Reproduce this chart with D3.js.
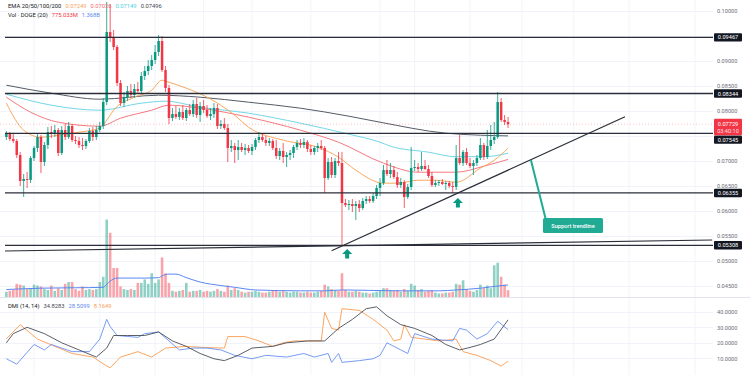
<!DOCTYPE html>
<html>
<head>
<meta charset="utf-8">
<script src="https://cdn.jsdelivr.net/npm/d3@7"></script>
<style>
body { margin: 0; background: #fff; }
svg { display: block; font-family: Roboto, "Liberation Sans", sans-serif; }
</style>
</head>
<body>
<svg width="750" height="375"></svg>
<script>
// DOGE daily candles, day 0 = first candle on the left
var open = [
 .07474,.07534,.07434,.07394,.07114,.06594,.06634,.06614,.07054,.07254,
 .07474,.06974,.07314,.07574,.07534,.07614,.07154,.07614,.07474,.07694,
 .07414,.07394,.07314,.07294,.07394,.07594,.07474,.07614,.07694,.08174,
 .09574,.09454,.09274,.08554,.08154,.08274,.08394,.08314,.08434,.08394,
 .08694,.08794,.08894,.09014,.09174,.09394,.08814,.08454,.07854,.07934,
 .07874,.07974,.07854,.08014,.07934,.08134,.07914,.08094,.08014,.07894,
 .07934,.08054,.07694,.07734,.07654,.07254,.07294,.07214,.07274,.07214,
 .07254,.07194,.07274,.07414,.07474,.07414,.07354,.07394,.07254,.07094,
 .07194,.07074,.07114,.07154,.07274,.07354,.07314,.07374,.07234,.07174,
 .07254,.07294,.07254,.06654,.06974,.06714,.06994,.06954,.06154,.06114,
 .06134,.06094,.06134,.06054,.06194,.06234,.06194,.06294,.06454,.06554,
 .06814,.06734,.06814,.06674,.06514,.06574,.06274,.06474,.06854,.06874,
 .06834,.06894,.06834,.06694,.06514,.06554,.06574,.06534,.06554,.06494,
 .06474,.07054,.06954,.07174,.06954,.06894,.06954,.07054,.07314,.07074,
 .07294,.07414,.07474,.08174,.07814,.07774];
var high = [
 .07594,.07574,.07534,.07434,.07174,.06734,.06774,.07094,.07294,.07554,
 .07514,.07374,.07674,.07694,.07714,.07654,.07694,.07734,.07774,.07734,
 .07494,.07474,.07454,.07434,.07654,.07674,.07694,.07774,.08254,.10174,
 .10134,.09614,.09314,.08614,.08374,.08494,.08534,.08534,.08574,.08774,
 .08894,.09014,.09114,.09314,.09514,.09494,.08894,.08514,.08054,.08094,
 .08054,.08114,.08054,.08134,.08214,.08254,.08174,.08214,.08114,.08054,
 .08154,.08134,.07814,.07854,.07734,.07414,.07354,.07414,.07354,.07334,
 .07314,.07334,.07454,.07574,.07534,.07494,.07454,.07434,.07414,.07254,
 .07354,.07174,.07214,.07314,.07414,.07434,.07454,.07414,.07314,.07294,
 .07354,.07414,.07294,.07054,.07074,.07054,.07174,.07174,.06234,.06214,
 .06234,.06194,.06214,.06254,.06294,.06294,.06354,.06514,.06654,.06914,
 .07014,.06954,.06894,.06774,.06654,.06614,.06534,.07274,.07014,.06954,
 .07174,.07014,.06914,.06774,.06614,.06614,.06634,.06594,.06594,.06574,
 .07314,.07514,.07214,.07254,.07054,.07014,.07114,.07454,.07354,.07614,
 .07714,.07774,.08374,.08254,.07914,.07874];
var low = [
 .07414,.07394,.07354,.07054,.06494,.06274,.06454,.06554,.06994,.07174,
 .06754,.06894,.07234,.07454,.07474,.07094,.07114,.07414,.07434,.07374,
 .07334,.07254,.07214,.07234,.07354,.07394,.07414,.07574,.07634,.08114,
 .09374,.09214,.08494,.08094,.08074,.08194,.08254,.08254,.08334,.08354,
 .08614,.08714,.08814,.08934,.09094,.08774,.08374,.07734,.07794,.07834,
 .07814,.07814,.07794,.07894,.07874,.07854,.07774,.07954,.07854,.07814,
 .07854,.07634,.07634,.07614,.06974,.07174,.06954,.07014,.07174,.07114,
 .07154,.07114,.07214,.07354,.07374,.07294,.07294,.07214,.07034,.07014,
 .06954,.06874,.07014,.07054,.07214,.07254,.07254,.07174,.07114,.07114,
 .07174,.07214,.06354,.06614,.06654,.06654,.06894,.05314,.06074,.06014,
 .05974,.05814,.05974,.06014,.06134,.06154,.06154,.06234,.06294,.06514,
 .06694,.06654,.06634,.06454,.06454,.06054,.06234,.06414,.06794,.06774,
 .06794,.06814,.06654,.06474,.06474,.06494,.06514,.06414,.06454,.06354,
 .06414,.06914,.06894,.06914,.06854,.06714,.06894,.07014,.07014,.07034,
 .07214,.07334,.07434,.07774,.07714,.07654];
var close = [
 .07534,.07434,.07394,.07114,.06594,.06634,.06614,.07054,.07254,.07474,
 .06974,.07314,.07574,.07534,.07614,.07154,.07614,.07474,.07694,.07414,
 .07394,.07314,.07294,.07394,.07594,.07474,.07614,.07694,.08174,.09574,
 .09454,.09274,.08554,.08154,.08274,.08394,.08314,.08434,.08394,.08694,
 .08794,.08894,.09014,.09174,.09394,.08814,.08454,.07854,.07934,.07874,
 .07974,.07854,.08014,.07934,.08134,.07914,.08094,.08014,.07894,.07934,
 .08054,.07694,.07734,.07654,.07254,.07294,.07214,.07274,.07214,.07254,
 .07194,.07274,.07414,.07474,.07414,.07354,.07394,.07254,.07094,.07194,
 .07074,.07114,.07154,.07274,.07354,.07314,.07374,.07234,.07174,.07254,
 .07294,.07254,.06654,.06974,.06714,.06994,.06954,.06154,.06114,.06134,
 .06094,.06134,.06054,.06194,.06234,.06194,.06294,.06454,.06554,.06814,
 .06734,.06814,.06674,.06514,.06574,.06274,.06474,.06854,.06874,.06834,
 .06894,.06834,.06694,.06514,.06554,.06574,.06534,.06554,.06494,.06474,
 .07054,.06954,.07174,.06954,.06894,.06954,.07054,.07314,.07074,.07294,
 .07414,.07474,.08174,.07814,.07774,.07729];
// daily volume in billions of DOGE
var volume = [
 0.6,0.7,0.8,1.5,1.4,1.3,0.9,1.0,1.4,1.3,
 1.2,0.9,0.8,1.3,0.7,1.0,0.8,1.5,1.7,1.7,
 0.9,0.7,1.2,0.8,0.9,0.8,0.9,1.7,2.3,8.8,
 7.3,3.3,3.3,1.2,0.9,0.8,0.9,0.8,1.6,1.6,
 2.0,1.5,2.7,1.6,2.0,4.5,2.7,1.6,0.7,0.6,
 0.7,0.8,1.6,0.6,0.7,0.7,0.8,0.6,0.7,0.6,
 0.7,0.9,0.7,0.6,1.3,0.8,1.0,0.8,0.6,0.5,
 0.6,0.6,0.7,0.6,0.5,0.5,0.6,0.7,0.8,0.6,
 0.7,0.6,0.5,0.6,0.6,0.5,0.5,0.6,0.5,0.5,
 0.6,0.7,1.4,1.2,0.9,0.8,0.7,2.7,0.8,0.6,
 0.6,0.7,0.6,0.5,0.5,0.4,0.5,0.6,0.7,1.0,
 1.0,0.8,0.7,0.8,0.6,0.9,0.7,1.5,1.3,0.8,
 0.9,0.6,0.7,0.8,0.5,0.4,0.4,0.5,0.5,0.6,
 1.5,1.4,1.9,0.9,0.7,0.6,0.8,1.4,1.0,1.3,
 1.0,3.6,3.9,2.3,1.4,0.775];

// indicator lines as [day, value]
var ema200 = [[0,.0851],[13,.0835],[27,.0823],[44,.0831],[56,.0827],[70,.0817],[85,.0805],[99,.0789],[108,.0777],[127,.0755],[137,.0751],[145,.07496]];
var ema100 = [[0,.0833],[13,.0811],[27,.0801],[39,.0815],[46,.0819],[56,.0807],[70,.0795],[85,.0775],[99,.0753],[108,.0737],[111,.0729],[122,.0717],[130,.0708],[138,.0708],[145,.07149]];
var ema50 = [[0,.0827],[7,.0797],[15,.0777],[27,.0769],[33,.0785],[42,.0801],[47,.0811],[56,.0805],[70,.0787],[85,.0761],[96,.0737],[109,.0695],[119,.0677],[130,.0677],[138,.0689],[145,.07026]];
var ema20 = [[0,.0815],[5,.0761],[10,.0747],[15,.0751],[21,.0757],[27,.0765],[29,.0781],[31,.0801],[37,.0827],[42,.0841],[45,.0861],[47,.0857],[52,.0845],[58,.0827],[66,.0791],[70,.0767],[80,.0741],[90,.0727],[96,.0707],[101,.0681],[109,.0655],[113,.0655],[119,.0661],[124,.0661],[130,.0657],[137,.0685],[141,.0701],[145,.07249]];
var volMa = [[0,0.85],[10,1.0],[20,1.05],[28,1.1],[29,1.45],[30,1.8],[32,2.15],[40,2.15],[44,2.2],[45,2.4],[47,2.6],[49,2.6],[52,2.2],[56,1.7],[62,1.3],[66,1.1],[72,0.8],[85,0.7],[92,0.7],[97,0.8],[105,0.75],[115,0.7],[125,0.7],[130,0.8],[137,1.0],[141,1.2],[145,1.368]];
var adx = [[0,20],[2,25.9],[6,30],[11,25.9],[16,20],[21,15.4],[26,10.8],[29,16.6],[31,24.7],[35,24.7],[40,24.7],[44,27],[48,21.2],[52,17.7],[56,13.1],[60,9.7],[63,8.5],[67,11.9],[71,16.6],[77,17.7],[81,20],[87,21.2],[92,21.2],[96,29.3],[100,35.1],[104,42],[107,43.2],[110,37.4],[114,31.7],[118,29.3],[123,24.7],[127,18.9],[131,15.4],[134,17],[137,18.9],[141,22.4],[145,34.83]];
var plusDI = [[0,9.7],[3,6.2],[8,18.9],[11,15.4],[13,18.9],[16,16.6],[19,14.3],[24,14.3],[27,22.4],[29,35.1],[30,30.5],[32,24.7],[38,23.5],[40,25.9],[44,27],[47,21.2],[50,15.4],[54,16.6],[58,16.6],[62,15.4],[66,11.9],[71,9.7],[75,11.9],[81,10.8],[86,13.1],[89,10.8],[93,13.1],[94,7.4],[96,13.1],[97,7.4],[102,8.5],[106,9.7],[108,11.9],[110,20],[114,15.4],[116,13.1],[118,25.9],[123,22.4],[129,21.2],[131,29.3],[133,28.2],[136,22.4],[139,25.9],[142,33.9],[145,28.51]];
var minusDI = [[0,22.5],[4,31.7],[9,22.4],[14,17.7],[19,13.1],[25,10.8],[29,5],[30,3.9],[33,10.8],[38,14.3],[42,10.8],[46,16.6],[52,17.7],[57,17],[63,16.6],[64,24],[69,24],[73,21.2],[77,17.7],[80,20],[83,21.2],[91,21.2],[92,39.7],[94,29.3],[96,28.2],[97,42],[102,40.9],[106,35.1],[110,28.2],[112,21.2],[114,22.4],[115,31.7],[117,23.5],[121,22.4],[125,21.2],[130,22.4],[132,14.3],[136,11.9],[140,8.5],[143,5],[145,8.16]];

// drawn levels and tick values
var levels = [0.09467, 0.08344, 0.07545, 0.06355, 0.05308];
var priceTicks = [0.045,0.05,0.055,0.06,0.065,0.07,0.075,0.08,0.085,0.09,0.095,0.10];
var priceLabels = [0.045,0.05,0.055,0.06,0.065,0.07,0.08,0.085,0.09,0.10]; // the others sit under the tags
var dmiTicks = [10,20,30,40];
var gridDays = [8,27,43,57,71,88,108,118,134,149,164,180,199];
var lastPrice = 0.07729;

var up = "#089981", down = "#f23645";
var svg = d3.select("svg");
svg.append("rect").attr("width",750).attr("height",375).attr("fill","#fff");

var plotR = 713;
var x = d3.scaleLinear().domain([0,204]).range([6.36,712.2]);
var y = d3.scaleLinear().domain([0.045,0.10]).range([285.7,10.7]);
var yVol = d3.scaleLinear().domain([0,10]).range([297,209]);
var yDmi = d3.scaleLinear().domain([0,40]).range([373.8,311.8]);

svg.append("defs").append("clipPath").attr("id","pricePane")
  .append("rect").attr("x",0).attr("y",0).attr("width",plotR).attr("height",297);

// grid
var grid = svg.append("g").attr("stroke","#f0f3fa").attr("stroke-width",1);
grid.selectAll(".gh").data(priceTicks).enter().append("line")
  .attr("x1",0).attr("x2",plotR).attr("y1",d => Math.round(y(d))+0.5).attr("y2",d => Math.round(y(d))+0.5);
grid.selectAll(".gd").data(dmiTicks).enter().append("line")
  .attr("x1",0).attr("x2",plotR).attr("y1",d => Math.round(yDmi(d))+0.5).attr("y2",d => Math.round(yDmi(d))+0.5);
grid.selectAll(".gv").data(gridDays).enter().append("line")
  .attr("x1",d => x(d)).attr("x2",d => x(d)).attr("y1",0).attr("y2",375);

var pane = svg.append("g").attr("clip-path","url(#pricePane)");

// volume
var days = d3.range(close.length);
pane.selectAll(".vol").data(days).enter().append("rect")
  .attr("x",i => x(i)-1.3).attr("width",2.6)
  .attr("y",i => yVol(volume[i])).attr("height",i => 297 - yVol(volume[i]))
  .attr("fill",i => close[i] >= open[i] ? up : down).attr("fill-opacity",0.45);

var line = d3.line().x(d => x(d[0])).curve(d3.curveMonotoneX);
pane.append("path").datum(volMa).attr("fill","none").attr("stroke","#5b86f0").attr("stroke-width",1)
  .attr("d", line.y(d => yVol(d[1])));

// EMAs
[[ema200,"#555b66"],[ema100,"#72d7e8"],[ema50,"#f47a7e"],[ema20,"#f9a85e"]].forEach(function(s){
  pane.append("path").datum(s[0]).attr("fill","none").attr("stroke",s[1]).attr("stroke-width",1)
    .attr("d", d3.line().x(d => x(d[0])).y(d => y(d[1])).curve(d3.curveMonotoneX));
});

// candles
var candles = pane.selectAll(".c").data(days).enter().append("g")
  .attr("fill",i => close[i] >= open[i] ? up : down)
  .attr("stroke",i => close[i] >= open[i] ? up : down);
candles.append("line").attr("x1",i => x(i)).attr("x2",i => x(i))
  .attr("y1",i => y(high[i])).attr("y2",i => y(low[i])).attr("stroke-width",0.8);
candles.append("rect").attr("stroke","none").attr("x",i => x(i)-1.25).attr("width",2.5)
  .attr("y",i => y(Math.max(open[i],close[i])))
  .attr("height",i => Math.max(0.8, Math.abs(y(open[i])-y(close[i]))));

// last price line
pane.append("line").attr("x1",0).attr("x2",plotR).attr("y1",y(lastPrice)).attr("y2",y(lastPrice))
  .attr("stroke",down).attr("stroke-opacity",0.5).attr("stroke-width",0.6).attr("stroke-dasharray","1,2");

// horizontal levels
pane.selectAll(".lvl").data(levels).enter().append("line")
  .attr("x1",5).attr("x2",plotR).attr("y1",d => y(d)).attr("y2",d => y(d))
  .attr("stroke","#2a2e39").attr("stroke-width",1.3);
// slanted base line and support trendline
var draw = pane.append("g").attr("stroke","#2a2e39").attr("stroke-width",1.2);
draw.append("line").attr("x1",x(-0.4)).attr("y1",y(0.05194)).attr("x2",x(204)).attr("y2",y(0.05414));
draw.append("line").attr("x1",x(94)).attr("y1",y(0.0520)).attr("x2",x(178.8)).attr("y2",y(0.0788));

// support label with connector
var teal = "#22ab94";
svg.append("line").attr("x1",x(151.6)).attr("y1",y(0.07014)).attr("x2",x(156.5)).attr("y2",y(0.0566))
  .attr("stroke",teal).attr("stroke-width",2);
svg.append("rect").attr("x",543).attr("y",218).attr("width",60).attr("height",15).attr("rx",1.5).attr("fill",teal);
svg.append("text").attr("x",573).attr("y",227.8).attr("text-anchor","middle").attr("fill","#fff")
  .attr("font-size",5.6).attr("font-weight",500).text("Support trendline");

// up arrows
[[98.5,0.05234],[130.5,0.06254]].forEach(function(a){
  svg.append("path").attr("transform","translate("+x(a[0])+","+y(a[1])+")")
    .attr("d","M0,0L5,5L2,5L2,9.5L-2,9.5L-2,5L-5,5Z").attr("fill",up);
});

// DMI pane
var dmiLine = d3.line().x(d => x(d[0])).y(d => yDmi(d[1]));
[[minusDI,"#fb9b4f"],[plusDI,"#6690f4"],[adx,"#4a4d57"]].forEach(function(s){
  svg.append("path").datum(s[0]).attr("fill","none").attr("stroke",s[1]).attr("stroke-width",0.9)
    .attr("d", dmiLine);
});

// pane separator
svg.append("line").attr("x1",0).attr("x2",750).attr("y1",297.5).attr("y2",297.5).attr("stroke","#e0e3eb");

// right price axis
var axisFont = 5.6;
var ay = svg.append("g").attr("transform","translate(714,0)")
  .call(d3.axisRight(y).tickValues(priceLabels).tickSize(0).tickPadding(3).tickFormat(d3.format(".5f")));
ay.select(".domain").remove();
ay.selectAll("text").attr("font-size",axisFont).attr("fill","#6a6d78").attr("font-family","Roboto, sans-serif");
var ad = svg.append("g").attr("transform","translate(714,0)")
  .call(d3.axisRight(yDmi).tickValues(dmiTicks).tickSize(0).tickPadding(3).tickFormat(d3.format(".4f")));
ad.select(".domain").remove();
ad.selectAll("text").attr("font-size",axisFont).attr("fill","#6a6d78").attr("font-family","Roboto, sans-serif");

// level labels on the scale
function tag(top, h, fill) {
  svg.append("rect").attr("x",714).attr("y",top).attr("width",28).attr("height",h).attr("fill",fill).attr("rx",1);
}
levels.forEach(function(l){
  var cy = y(l);
  if (l === 0.07545) cy = 139.6;
  tag(cy - 4.2, 8.4, "#131722");
  svg.append("text").attr("x",728).attr("y",cy+2).attr("text-anchor","middle").attr("fill","#fff")
    .attr("font-size",axisFont).text(d3.format(".5f")(l));
});
tag(118.8, 16.4, down);
svg.append("text").attr("x",728).attr("y",125.5).attr("text-anchor","middle").attr("fill","#fff")
  .attr("font-size",axisFont).text(d3.format(".5f")(lastPrice));
svg.append("text").attr("x",728).attr("y",132.6).attr("text-anchor","middle").attr("fill","#fff")
  .attr("fill-opacity",0.85).attr("font-size",axisFont).text("03:40:10");

// legends
function legend(yPos, parts) {
  var xp = 8;
  parts.forEach(function(p){
    var t = svg.append("text").attr("x",xp).attr("y",yPos).attr("font-size",5.8).attr("fill",p[1]).text(p[0]);
    xp += t.node().getComputedTextLength() + 4;
  });
}
legend(7.5, [["EMA 20/50/100/200","#131722"],["0.07249","#f7a35c"],["0.07026","#f26b6f"],["0.07149","#4dd0e1"],["0.07496","#434651"]]);
legend(16.5, [["Vol · DOGE (20)","#131722"],["775.033M",down],["1.368B","#5b86f0"]]);
legend(307.5, [["DMI (14, 14)","#131722"],["34.8283","#434651"],["28.5099","#5b86f0"],["8.1649","#fb9b4f"]]);
</script>
</body>
</html>
